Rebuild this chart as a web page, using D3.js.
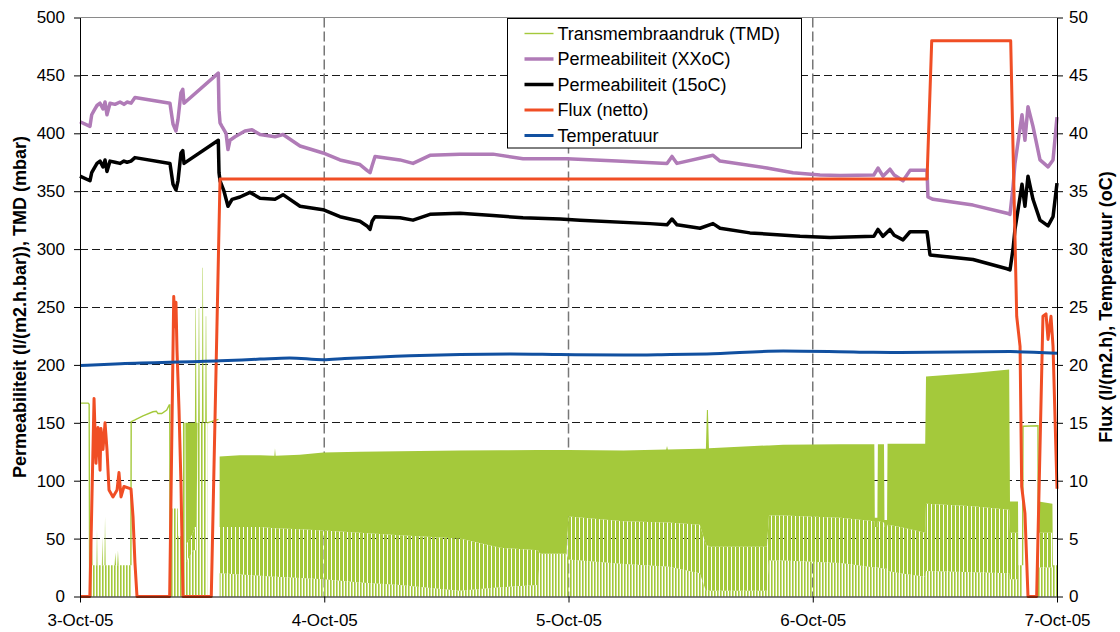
<!DOCTYPE html>
<html>
<head>
<meta charset="utf-8">
<script src="https://cdn.jsdelivr.net/npm/d3@7"></script>
<style>
  body { margin: 0; background: #fff; }
  svg { display: block; }
  text { font-family: "Liberation Sans", Arial, sans-serif; fill: #000; }
</style>
</head>
<body>
<svg id="chart" width="1120" height="632"></svg>
<script>
// ---- Data: time is hours after 3-Oct-05 00:00 ----

// Permeability at actual temperature, l/(m2.h.bar)
const permXX = [
  [0, 410], [0.98, 406], [1.15, 416], [1.4, 420], [1.67, 424], [1.97, 426], [2.26, 421],
  [2.46, 427], [2.65, 416], [2.95, 426], [3.44, 425], [3.93, 427], [4.32, 425], [4.62, 427],
  [5.01, 426], [5.4, 431], [8.84, 426], [8.94, 420], [9.14, 408], [9.43, 402], [9.63, 412],
  [9.92, 435], [10.1, 438], [10.22, 426], [13.59, 452], [13.66, 420], [13.76, 409],
  [13.95, 406], [14.35, 400], [14.54, 386], [14.74, 394], [15.23, 397], [16.21, 402],
  [16.9, 403], [17.69, 399], [19.16, 397], [19.95, 399], [21.62, 389], [23.88, 383],
  [25.55, 377], [27.51, 373], [28.2, 368], [28.5, 366], [28.7, 372], [28.99, 380],
  [31.44, 377], [32.72, 374], [34.39, 381], [37.34, 382], [40.58, 382], [43.53, 378],
  [47.85, 378], [52.77, 376], [57.68, 374], [58.17, 380], [58.66, 374], [62.2, 381],
  [62.89, 376], [67.5, 370], [70.06, 366], [72.71, 364], [74.68, 363.5], [78.0, 364],
  [78.41, 370], [78.9, 363], [79.59, 369], [80.0, 364], [80.87, 359], [81.56, 368],
  [83.23, 368], [83.32, 345], [83.82, 343], [87.75, 338], [91.09, 331], [91.38, 330],
  [91.68, 354], [91.87, 374], [92.56, 416], [92.85, 394], [93.15, 423], [93.64, 406],
  [94.33, 377], [95.12, 371], [95.61, 377], [96, 414]
];

// Permeability normalised to 15 oC, l/(m2.h.bar)
const perm15 = [
  [0, 363], [0.98, 359], [1.15, 366], [1.4, 370], [1.67, 374], [1.97, 376], [2.26, 371],
  [2.46, 377], [2.65, 367], [2.95, 376], [3.44, 375], [3.93, 374], [4.32, 376], [4.62, 375],
  [5.01, 376], [5.4, 379], [8.84, 374], [8.94, 368], [9.14, 356], [9.43, 351], [9.63, 359],
  [9.92, 383], [10.1, 385], [10.22, 374], [13.59, 394], [13.66, 366], [13.76, 359],
  [14.15, 350], [14.54, 337], [14.94, 343], [15.72, 345], [16.7, 349], [17.69, 344],
  [19.16, 343], [19.95, 347], [21.62, 337], [23.88, 334], [25.55, 328], [27.51, 324],
  [28.2, 320], [28.5, 317], [28.7, 324], [28.99, 328], [31.44, 327], [32.72, 325],
  [34.39, 330], [37.34, 331], [40.58, 329], [43.53, 327], [47.17, 326], [49.13, 325],
  [56.01, 322], [57.68, 321], [58.17, 326], [58.66, 321], [60.92, 318], [62.2, 322],
  [62.89, 318], [65.83, 314], [70.75, 311], [73.7, 310], [78.0, 311], [78.41, 317],
  [78.9, 311], [79.59, 317], [80.0, 312], [80.87, 308], [81.56, 315], [83.23, 315],
  [83.52, 295], [87.75, 291], [91.09, 283], [91.38, 282], [91.68, 300], [91.87, 317],
  [92.56, 356], [92.85, 337], [93.15, 363], [93.64, 343], [94.33, 325], [95.12, 320],
  [95.61, 328], [96, 357]
];

// Net flux, l/(m2.h)
const fluxNet = [
  [0, 0], [0.97, 0], [1.38, 17.1], [1.57, 11.5], [1.77, 14.6], [1.97, 10.9], [2.06, 14.5],
  [2.26, 12.7], [2.46, 15.0], [2.65, 12.7], [2.85, 9.2], [3.24, 8.6], [3.64, 9.2],
  [3.83, 10.7], [4.03, 8.6], [4.32, 9.5], [5.01, 9.3], [5.21, 6.9], [5.4, 2.9], [5.6, 0],
  [8.81, 0], [9.21, 25.9], [9.33, 23.3], [9.43, 25.4], [9.53, 21.3], [9.73, 16.1],
  [9.92, 9.8], [10.12, 0], [12.9, 0], [13.76, 36.05], [83.23, 36.05], [83.69, 48.0],
  [91.45, 48.0], [92.04, 24.2], [92.37, 21.6], [92.53, 9.5], [92.85, 7.2], [93.15, 0],
  [94.0, 0], [94.62, 24.2], [94.92, 24.4], [95.12, 22.2], [95.41, 24.2], [95.61, 21.6],
  [96, 9.3]
];

// Water temperature, oC
const temperature = [
  [0, 19.95], [4.0, 20.1], [13.8, 20.35], [17.7, 20.5], [20.6, 20.6], [23.9, 20.45],
  [26.0, 20.55], [32.4, 20.8], [42.3, 20.95], [47.2, 20.9], [53.4, 20.85], [58.0, 20.9],
  [61.6, 20.95], [69.1, 21.2], [76.6, 21.1], [80.6, 21.07], [91.4, 21.15], [96, 21.0]
];

// TMD during filtration cycles (mbar): [hour, cycle peak, floor of the dense part,
// lowest trough level]; null rows separate periods without cycling
const tmdCycles = [
  [0.98, 27, 27, 27], [1.12, 27, 27, 27], [1.18, 47, 27, 27], [1.24, 27, 27, 27],
  [1.62, 27, 27, 27], [1.67, 58, 27, 27], [1.72, 27, 27, 27], [2.15, 27, 27, 27],
  [2.2, 52, 27, 27], [2.25, 27, 27, 27], [2.4, 27, 27, 27], [2.46, 69, 27, 27],
  [2.52, 27, 27, 27], [3.4, 27, 27, 27], [3.47, 38, 27, 27], [3.54, 27, 27, 27],
  [3.66, 27, 27, 27], [3.73, 40, 27, 27], [3.8, 27, 27, 27], [5.01, 27, 27, 27],
  [5.02, null, null, null],
  [8.86, 76, 76, 76], [9.6, 76, 76, 76], [9.65, 52, 52, 52], [10.05, 52, 52, 52],
  [10.12, 150, 150, 150], [10.35, 150, 150, 150], [10.42, 150, 45, 30], [10.81, 150, 50, 35],
  [11.1, 150, 55, 40], [11.29, 150, 60, 40], [11.35, 248, 60, 40], [11.39, 248, 60, 40],
  [11.45, 150, 60, 40], [11.55, 150, 150, 150], [11.61, 150, 150, 150],
  [11.67, 249, 150, 150], [11.71, 249, 150, 150], [11.77, 150, 150, 150],
  [11.98, 150, 150, 150], [12.04, 284, 150, 150], [12.08, 284, 150, 150],
  [12.14, 150, 150, 150], [12.3, 150, 150, 150], [12.36, 242, 150, 150],
  [12.4, 242, 150, 150], [12.46, 150, 150, 150], [12.5, 150, 150, 150],
  [12.51, null, null, null],
  [13.72, 121, 60, 20], [15.7, 122, 60, 19], [17.7, 122, 60, 18], [19.1, 121.5, 59, 17],
  [19.16, 128, 59, 17], [19.22, 121.5, 59, 17], [21.6, 122.5, 58, 16], [23.9, 124.3, 57, 15],
  [27.5, 125, 55, 12], [31.4, 125.5, 53, 10], [37.3, 126, 50, 5], [41.3, 126.3, 42, 8],
  [45.0, 126.6, 40, 10], [45.2, 126.6, 37, 37], [47.8, 126.5, 37, 37], [48.0, 126.5, 69, 32],
  [53.4, 126, 65, 28], [57.6, 127, 64, 26], [57.68, 130, 64, 26], [57.76, 127, 64, 26],
  [60.9, 127.5, 62, 20], [61.5, 127.5, 45, 5], [61.6, 161, 44, 5], [61.7, 161, 44, 5],
  [61.8, 128, 43, 5], [67.5, 130.5, 43, 5], [67.7, 130.5, 70, 31], [69.1, 131, 70, 31],
  [74.7, 131.5, 68, 29], [78.05, 131.5, 65, 25], [78.1, 68, 60, 25], [78.35, 68, 60, 25],
  [78.4, 131.5, 65, 25], [79.0, 131.5, 64, 24], [79.05, 66, 60, 24], [79.3, 66, 60, 24],
  [79.35, 132, 62, 22], [80.6, 132, 60, 20], [83.05, 132, 55, 17], [83.13, 190, 80, 22],
  [87.75, 193, 78, 21], [91.3, 196, 75, 20], [91.38, 82, 55, 15], [92.17, 82, 55, 15],
  [92.2, 27, 27, 27], [92.6, 27, 27, 27],
  [92.61, null, null, null],
  [94.2, 82, 55, 25], [95.55, 80, 55, 25], [95.6, 27, 27, 27], [96, 27, 27, 27]
];

// TMD while the membrane is idle (single line), null breaks the line
const tmdIdle = [
  [0, 167], [0.8, 167], [0.9, 166], [0.95, 0], [0.96, null],
  [5.0, 27], [5.03, 151], [5.4, 152.5], [6.19, 156], [7.17, 159.5], [7.5, 160], [7.66, 158],
  [8.03, 158], [8.52, 161], [8.77, 165.5], [8.82, 165.5], [8.86, 0], [8.87, null],
  [12.5, 150], [13.6, 153], [13.61, null],
  [92.62, 27], [92.66, 147], [94.13, 147.4], [94.17, 0]
];

const leftTicks = d3.range(0, 501, 50);
const rightTicks = d3.range(0, 51, 5);
const dayTicks = [0, 24, 48, 72, 96];

const legendItems = [
  { label: "Transmembraandruk (TMD)", color: "#a4c93b", width: 1.4 },
  { label: "Permeabiliteit (XXoC)", color: "#b07bb7", width: 3.5 },
  { label: "Permeabiliteit (15oC)", color: "#000000", width: 3.5 },
  { label: "Flux (netto)", color: "#f04e25", width: 3 },
  { label: "Temperatuur", color: "#1150a0", width: 3 }
];

// ---- Layout ----
const W = 1120, H = 632;
const margin = { top: 17.5, right: 63, bottom: 35.5, left: 80 };
const svg = d3.select("#chart");

const t0 = new Date(Date.UTC(2005, 9, 3));
const toDate = h => new Date(t0.getTime() + h * 3600e3);

const x = d3.scaleTime().domain([toDate(0), toDate(96)]).range([margin.left, W - margin.right]);
const yL = d3.scaleLinear().domain([0, 500]).range([H - margin.bottom, margin.top]);
const yR = d3.scaleLinear().domain([0, 50]).range([H - margin.bottom, margin.top]);

const GREEN = "#a4c93b";

// stripe fills for the lower, sparser part of the cycling TMD trace
const defs = svg.append("defs");
const light = defs.append("pattern").attr("id", "tmdLight")
  .attr("patternUnits", "userSpaceOnUse").attr("width", 4).attr("height", 4);
light.append("rect").attr("width", 3).attr("height", 4).attr("fill", GREEN);
const heavy = defs.append("pattern").attr("id", "tmdHeavy")
  .attr("patternUnits", "userSpaceOnUse").attr("width", 3).attr("height", 4);
heavy.append("rect").attr("width", 1.6).attr("height", 4).attr("fill", GREEN);

// ---- Gridlines ----
const grid = svg.append("g");
grid.selectAll("line.h").data(leftTicks.filter(v => v > 0 && v < 500)).join("line")
  .attr("x1", margin.left).attr("x2", W - margin.right)
  .attr("y1", d => yL(d)).attr("y2", d => yL(d))
  .attr("stroke", "#1a1a1a").attr("stroke-width", 1).attr("stroke-dasharray", "8,4")
  .attr("shape-rendering", "crispEdges");
grid.selectAll("line.v").data(dayTicks.slice(1, -1)).join("line")
  .attr("x1", d => x(toDate(d))).attr("x2", d => x(toDate(d)))
  .attr("y1", margin.top).attr("y2", H - margin.bottom)
  .attr("stroke", "#777").attr("stroke-width", 1.5).attr("stroke-dasharray", "10,4");
// plot frame top edge
svg.append("line")
  .attr("x1", margin.left).attr("x2", W - margin.right)
  .attr("y1", margin.top).attr("y2", margin.top)
  .attr("stroke", "#8a8a8a").attr("stroke-width", 1);

// ---- TMD ----
const bx = d => x(toDate(d[0]));
const defined = d => d[1] != null;
const areaHeavy = d3.area().defined(defined).x(bx).y0(yL(0)).y1(d => yL(d[3]));
const areaLight = d3.area().defined(defined).x(bx).y0(d => yL(d[3])).y1(d => yL(d[2]));
const areaSolid = d3.area().defined(defined).x(bx).y0(d => yL(d[2])).y1(d => yL(d[1]));

svg.append("path").datum(tmdCycles).attr("d", areaHeavy).attr("fill", "url(#tmdHeavy)");
svg.append("path").datum(tmdCycles).attr("d", areaLight).attr("fill", "url(#tmdLight)");
svg.append("path").datum(tmdCycles).attr("d", areaSolid).attr("fill", GREEN);

svg.append("path").datum(tmdIdle)
  .attr("d", d3.line().defined(defined).x(bx).y(d => yL(d[1])))
  .attr("fill", "none").attr("stroke", GREEN).attr("stroke-width", 1.4);

// ---- Permeability lines ----
const lineL = d3.line().x(bx).y(d => yL(d[1]));
const lineR = d3.line().x(bx).y(d => yR(d[1]));

svg.append("path").datum(permXX).attr("d", lineL)
  .attr("fill", "none").attr("stroke", "#b07bb7").attr("stroke-width", 3.5)
  .attr("stroke-linejoin", "round");
svg.append("path").datum(perm15).attr("d", lineL)
  .attr("fill", "none").attr("stroke", "#000").attr("stroke-width", 3.5)
  .attr("stroke-linejoin", "round");

// ---- Secondary axis series ----
svg.append("path").datum(fluxNet).attr("d", lineR)
  .attr("fill", "none").attr("stroke", "#f04e25").attr("stroke-width", 3)
  .attr("stroke-linejoin", "round");
svg.append("path").datum(temperature).attr("d", lineR.curve(d3.curveMonotoneX))
  .attr("fill", "none").attr("stroke", "#1150a0").attr("stroke-width", 3);

// ---- Axes ----
function styleAxis(g, size) {
  g.selectAll("path.domain").attr("stroke", "#000").attr("stroke-width", 1);
  g.selectAll(".tick line").attr("stroke", "#000");
  g.selectAll(".tick text").attr("font-size", size).attr("fill", "#000")
    .attr("font-family", '"Liberation Sans", Arial, sans-serif');
}

svg.append("g").attr("transform", `translate(${margin.left},0)`)
  .call(d3.axisLeft(yL).tickValues(leftTicks).tickSize(6).tickSizeOuter(0).tickPadding(9))
  .call(g => styleAxis(g, 17));

svg.append("g").attr("transform", `translate(${W - margin.right},0)`)
  .call(d3.axisRight(yR).tickValues(rightTicks).tickSize(6).tickSizeOuter(0).tickPadding(6))
  .call(g => styleAxis(g, 17));

svg.append("g").attr("transform", `translate(0,${H - margin.bottom})`)
  .call(d3.axisBottom(x).tickValues(dayTicks.map(toDate)).tickSize(6).tickSizeOuter(0)
    .tickPadding(11).tickFormat(d3.utcFormat("%-d-%b-%y")))
  .call(g => styleAxis(g, 17));

// ---- Axis titles ----
const plotMid = (margin.top + H - margin.bottom) / 2;
svg.append("text")
  .attr("transform", `translate(20,${plotMid}) rotate(-90)`)
  .attr("text-anchor", "middle").attr("dy", "0.35em")
  .attr("font-size", 18).attr("font-weight", "bold")
  .text("Permeabiliteit (l/(m2.h.bar)), TMD (mbar)");
svg.append("text")
  .attr("transform", `translate(1106,${plotMid}) rotate(-90)`)
  .attr("text-anchor", "middle").attr("dy", "0.35em")
  .attr("font-size", 18).attr("font-weight", "bold")
  .text("Flux (l/(m2.h), Temperatuur (oC)");

// ---- Legend ----
const legend = svg.append("g").attr("transform", "translate(507.5,18.5)");
legend.append("rect").attr("width", 294).attr("height", 129.5)
  .attr("fill", "#fff").attr("stroke", "#000").attr("stroke-width", 1);
const rows = legend.selectAll("g.row").data(legendItems).join("g")
  .attr("transform", (d, i) => `translate(0,${15 + i * 25.5})`);
rows.append("line").attr("x1", 17).attr("x2", 46).attr("y1", 0).attr("y2", 0)
  .attr("stroke", d => d.color).attr("stroke-width", d => d.width);
rows.append("text").attr("x", 50).attr("dy", "0.35em").attr("font-size", 18)
  .text(d => d.label);
</script>
</body>
</html>
